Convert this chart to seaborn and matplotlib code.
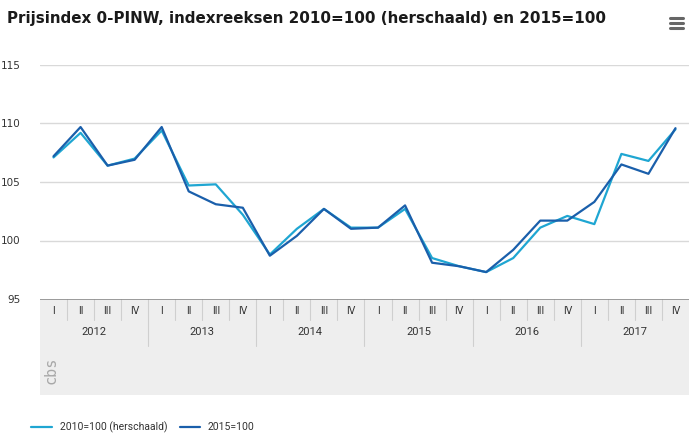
import numpy as np
import pandas as pd
import matplotlib
matplotlib.use('Agg')
import matplotlib.pyplot as plt
import seaborn as sns
from matplotlib.lines import Line2D
from matplotlib.patches import Rectangle

# data
years = ['2012', '2013', '2014', '2015', '2016', '2017']
quarters = ['I', 'II', 'III', 'IV']
serie_2010 = [107.1, 109.2, 106.4, 107.0, 109.4, 104.7, 104.8, 102.2,
              98.8, 101.0, 102.7, 101.1, 101.1, 102.7, 98.5, 97.8,
              97.3, 98.5, 101.1, 102.1, 101.4, 107.4, 106.8, 109.5]
serie_2015 = [107.2, 109.7, 106.4, 106.9, 109.7, 104.2, 103.1, 102.8,
              98.7, 100.4, 102.7, 101.0, 101.1, 103.0, 98.1, 97.8,
              97.3, 99.2, 101.7, 101.7, 103.3, 106.5, 105.7, 109.6]
labels = ['2010=100 (herschaald)', '2015=100']
colors = ['#1fa6d2', '#1a5fab']

W, H = 695, 445
n = len(serie_2010)

df = pd.DataFrame({
    'idx': list(range(n)) * 2,
    'waarde': serie_2010 + serie_2015,
    'reeks': [labels[0]] * n + [labels[1]] * n,
})

sns.set_theme(style='white')
plt.rcParams['font.family'] = ['DejaVu Sans']
small_font = ['Roboto', 'DejaVu Sans']

fig = plt.figure(figsize=(W / 100, H / 100), dpi=100)

def box(x0, y0, x1, y1):
    return [x0 / W, 1 - y1 / H, (x1 - x0) / W, (y1 - y0) / H]

ax = fig.add_axes(box(40, 65, 689, 299))
sns.lineplot(data=df, x='idx', y='waarde', hue='reeks', palette=colors,
             linewidth=1.6, ax=ax, legend=False)
ax.set_xlim(-0.5, n - 0.5)
ax.set_ylim(95, 115)
ax.set_yticks([95, 100, 105, 110, 115])
ax.set_yticklabels(['95', '100', '105', '110', '115'], fontsize=7.5, color='#333333')
ax.tick_params(axis='y', length=0, pad=14)
ax.set_xticks([])
ax.set_xlabel('')
ax.set_ylabel('')
for s in ax.spines.values():
    s.set_visible(False)
for v in [100, 105, 110, 115]:
    ax.axhline(v, color='#d9d9d9', lw=1, zorder=0)

# category band under the plot
ax2 = fig.add_axes(box(40, 299, 689, 395))
ax2.set_xlim(-0.5, n - 0.5)
ax2.set_ylim(96, 0)
ax2.axis('off')
ax2.add_patch(Rectangle((-0.5, 0), n, 96, color='#eeeeee', zorder=0))
ax2.plot([-0.5, n - 0.5], [0, 0], color='#8c8c8c', lw=1.2, zorder=3)
for i in range(1, n):
    if i % 4 == 0:
        ax2.plot([i - 0.5, i - 0.5], [0, 47], color='#cfcfcf', lw=0.8)
    else:
        ax2.plot([i - 0.5, i - 0.5], [0, 21], color='#cfcfcf', lw=0.8)
for i in range(n):
    ax2.text(i, 12, quarters[i % 4], ha='center', va='center', fontsize=7.5,
             color='#333333', family=small_font)
for k, y in enumerate(years):
    ax2.text(4 * k + 1.5, 33, y, ha='center', va='center', fontsize=8,
             color='#333333', family=small_font)
ax2.text(-0.1, 71, 'cbs', rotation=90, ha='center', va='center', fontsize=11,
         color='#a8a8a8', family='DejaVu Sans Mono')

# title and menu icon
fig.text(7 / W, 1 - 19 / H, 'Prijsindex 0-PINW, indexreeksen 2010=100 (herschaald) en 2015=100',
         ha='left', va='center', fontsize=10.9, fontweight='bold', color='#1a1a1a')
for yy in [18, 23, 28]:
    fig.add_artist(Line2D([670 / W, 683 / W], [1 - yy / H, 1 - yy / H], color='#666666', lw=2.2))

handles = [Line2D([], [], color=c, lw=1.6) for c in colors]
fig.legend(handles, labels, loc='center left', bbox_to_anchor=(22 / W, 1 - 427 / H),
           ncol=2, frameon=False, handlelength=2.0, columnspacing=1.2,
           handletextpad=0.7, labelcolor='#333333',
           prop={'family': small_font, 'size': 7.5})

fig.savefig('out.png', dpi=100)
